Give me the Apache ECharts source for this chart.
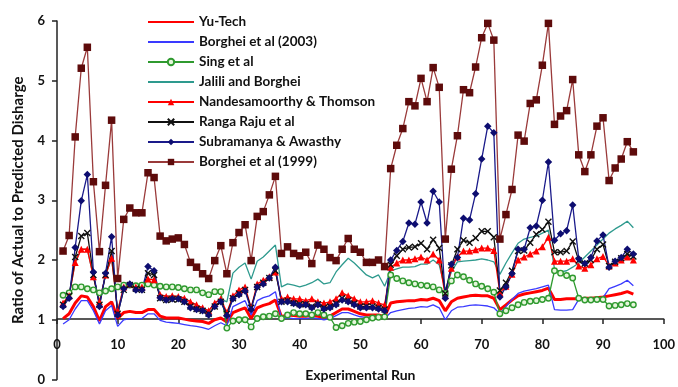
<!DOCTYPE html>
<html><head><meta charset="utf-8">
<script src="https://cdn.jsdelivr.net/npm/echarts@6/dist/echarts.min.js"></script>
<style>html,body{margin:0;padding:0;background:#fff}#c{width:678px;height:387px}</style>
</head><body><div id="c"></div>
<script>
const runs = [1,2,3,4,5,6,7,8,9,10,11,12,13,14,15,16,17,18,19,20,21,22,23,24,25,26,27,28,29,30,31,32,33,34,35,36,37,38,39,40,41,42,43,44,45,46,47,48,49,50,51,52,53,54,55,56,57,58,59,60,61,62,63,64,65,66,67,68,69,70,71,72,73,74,75,76,77,78,79,80,81,82,83,84,85,86,87,88,89,90,91,92,93,94,95];
const yuTech = [1.02,1.10,1.28,1.40,1.38,1.22,0.98,1.22,1.30,1.02, 1.12,1.14,1.12,1.12,1.17,1.17,1.06,1.03,1.03,1.03, 1.01,0.99,0.98,0.97,0.94,1.00,1.03,0.96,1.12,1.16, 1.20,1.02,1.20,1.24,1.27,1.33,1.05,1.08,1.07,1.06, 1.06,1.07,1.06,1.04,1.06,1.12,1.18,1.18,1.14,1.10, 1.08,1.08,1.08,1.05,1.28,1.30,1.31,1.32,1.32,1.34, 1.33,1.36,1.32,1.15,1.30,1.36,1.38,1.40,1.41,1.40, 1.40,1.36,1.17,1.25,1.33,1.40,1.43,1.45,1.47,1.49, 1.53,1.34,1.34,1.35,1.35,1.35,1.36,1.36,1.37,1.38, 1.40,1.42,1.44,1.47,1.43];
const borghei2003 = [0.93,1.00,1.18,1.32,1.32,1.15,0.93,1.15,1.24,0.89, 1.00,1.02,1.02,1.02,1.10,1.10,0.99,0.96,0.95,0.94, 0.92,0.90,0.89,0.87,0.84,0.90,0.95,0.90,1.22,1.27, 1.32,1.08,1.32,1.37,1.40,1.47,1.02,1.03,1.02,1.02, 1.02,1.03,1.02,1.00,1.02,1.07,1.12,1.12,1.08,1.05, 1.04,1.04,1.04,1.02,1.12,1.15,1.17,1.19,1.20,1.22, 1.21,1.25,1.20,1.00,1.15,1.21,1.22,1.24,1.25,1.24, 1.23,1.20,1.10,1.22,1.34,1.44,1.48,1.50,1.52,1.55, 1.58,1.17,1.16,1.16,1.17,1.34,1.35,1.35,1.36,1.37, 1.52,1.56,1.60,1.66,1.57];
const singEtAl = [1.41,1.45,1.55,1.55,1.52,1.50,1.45,1.48,1.52,1.55, 1.58,1.58,1.57,1.58,1.60,1.58,1.56,1.55,1.55,1.54, 1.52,1.50,1.50,1.45,1.42,1.47,1.47,0.86,0.98,1.00, 1.00,0.88,1.02,1.05,1.06,1.10,1.02,1.08,1.12,1.10, 1.10,1.08,1.12,1.08,1.04,0.87,0.90,0.94,0.96,0.97, 1.00,1.03,1.04,1.05,1.75,1.69,1.65,1.62,1.60,1.58, 1.57,1.55,1.50,1.44,1.65,1.75,1.72,1.66,1.60,1.56, 1.52,1.46,1.10,1.15,1.20,1.25,1.29,1.31,1.32,1.34, 1.36,1.82,1.78,1.74,1.70,1.36,1.33,1.33,1.34,1.34, 1.23,1.24,1.25,1.27,1.25];
const jaliliBorghei = [1.28,1.40,1.96,2.18,2.18,1.72,1.30,1.75,2.03,1.15, 1.55,1.60,1.55,1.55,1.68,1.67,1.42,1.39,1.40,1.39, 1.36,1.30,1.25,1.20,1.15,1.28,1.35,1.30,1.78,1.88, 1.95,1.68,1.98,2.05,2.15,2.25,1.55,1.60,1.58,1.55, 1.58,1.62,1.68,1.60,1.62,1.80,1.92,2.03,1.95,1.85, 1.75,1.70,1.75,1.56,1.82,1.85,1.88,1.88,1.89,1.93, 1.93,2.00,1.92,1.50,1.80,1.97,1.98,1.99,2.00,2.02, 2.00,1.97,1.76,1.95,2.12,2.28,2.35,2.38,2.40,2.45, 2.50,1.85,1.80,1.82,1.88,1.95,2.05,2.15,2.25,2.35, 2.45,2.52,2.58,2.65,2.54];
const nandesamoorthy = [1.28,1.40,1.96,2.18,2.18,1.72,1.30,1.75,2.03,1.15, 1.55,1.60,1.55,1.55,1.68,1.67,1.42,1.39,1.40,1.39, 1.36,1.30,1.25,1.20,1.15,1.28,1.35,1.12,1.40,1.50, 1.55,1.20,1.60,1.66,1.72,1.80,1.35,1.38,1.35,1.35, 1.32,1.35,1.30,1.28,1.30,1.35,1.45,1.40,1.35,1.30, 1.30,1.32,1.28,1.25,1.88,1.95,2.00,2.00,2.02,2.05, 2.00,2.10,2.00,1.40,1.86,2.05,2.15,2.15,2.17,2.20, 2.20,2.16,1.45,1.56,1.76,2.00,2.05,2.10,2.15,2.22, 2.38,1.98,1.98,1.98,2.02,1.90,1.86,1.92,2.02,2.06, 1.90,1.95,2.00,2.05,2.00];
const rangaRaju = [1.25,1.40,2.05,2.40,2.45,1.75,1.25,1.75,2.15,1.10, 1.50,1.58,1.52,1.50,1.78,1.75,1.36,1.33,1.34,1.34, 1.30,1.22,1.18,1.15,1.10,1.22,1.30,1.10,1.36,1.44, 1.50,1.20,1.55,1.62,1.70,1.82,1.30,1.32,1.28,1.26, 1.26,1.22,1.26,1.20,1.22,1.27,1.36,1.32,1.27,1.22, 1.22,1.22,1.20,1.17,1.92,2.07,2.18,2.21,2.22,2.28, 2.18,2.34,2.20,1.44,1.91,2.18,2.33,2.29,2.37,2.48, 2.48,2.38,1.49,1.62,1.82,2.15,2.16,2.29,2.43,2.51, 2.64,2.13,2.13,2.15,2.31,1.99,1.94,2.00,2.18,2.26, 1.90,1.97,2.03,2.10,2.06];
const subramanya = [1.22,1.36,2.21,2.99,3.43,1.80,1.22,1.78,2.39,1.08, 1.52,1.60,1.50,1.50,1.89,1.82,1.37,1.33,1.35,1.35, 1.30,1.20,1.17,1.15,1.08,1.22,1.30,1.07,1.35,1.42, 1.48,1.17,1.55,1.60,1.70,1.88,1.30,1.30,1.27,1.24, 1.25,1.20,1.25,1.18,1.20,1.25,1.33,1.30,1.25,1.20, 1.20,1.20,1.18,1.15,2.00,2.16,2.31,2.62,2.60,2.97, 2.62,3.15,2.97,1.36,1.93,2.04,2.70,2.67,3.11,3.69, 4.24,4.13,1.38,1.55,1.77,2.18,2.18,2.54,2.57,3.00, 3.64,2.33,2.44,2.49,2.92,2.02,1.94,2.04,2.32,2.42, 1.88,1.98,2.04,2.18,2.10];
const borghei1999 = [2.15,2.41,4.06,5.21,5.56,3.31,2.14,3.25,4.34,1.69, 2.68,2.87,2.79,2.79,3.46,3.38,2.40,2.32,2.35,2.37, 2.26,1.96,1.88,1.77,1.69,1.99,2.24,1.77,2.29,2.46, 2.59,1.99,2.73,2.81,3.09,3.40,2.11,2.22,2.11,2.07, 2.13,1.94,2.25,2.18,2.04,1.99,2.18,2.36,2.18,2.13, 1.96,1.96,2.00,1.89,3.53,3.92,4.20,4.65,4.58,5.04, 4.65,5.22,4.89,2.35,3.52,4.08,4.85,4.80,5.23,5.72, 5.96,5.68,2.35,2.76,3.18,4.09,3.99,4.62,4.68,5.26, 5.96,4.27,4.41,4.50,5.02,3.76,3.48,3.76,4.24,4.38, 3.33,3.54,3.69,3.98,3.81];
const seriesNames = ['Yu-Tech','Borghei et al (2003)','Sing et al','Jalili and Borghei','Nandesamoorthy & Thomson','Ranga Raju et al','Subramanya & Awasthy','Borghei et al (1999)'];
const xTicks = {min:0, max:100, interval:10};
const yTicks = {min:0, max:6, interval:1};

const pair = arr => runs.map((r,i)=>[r, arr[i]]);
const FONT = 'Lato';
const noMarker = new Set([0,1,3]);
const chart = echarts.init(document.getElementById('c'), null, {renderer:'canvas'});
const base = {type:'line', animation:false};
chart.setOption({
  animation:false,
  grid:{left:57, right:11, top:21, bottom:3, containLabel:false},
  legend:{
    orient:'vertical', left:142, top:10, itemWidth:46, itemHeight:8, itemGap:6,
    textStyle:{fontFamily:FONT, fontWeight:'bold', fontSize:13.5, color:'#111'},
    data:seriesNames.map((n,i)=> noMarker.has(i) ? {name:n, itemStyle:{opacity:0}} : {name:n})
  },
  xAxis:{
    type:'value', min:xTicks.min, max:xTicks.max, interval:xTicks.interval,
    offset:-60.5,
    axisLine:{show:true, onZero:false, lineStyle:{color:'#222', width:1.5}},
    axisTick:{show:true, inside:false, length:5, lineStyle:{color:'#222', width:1.5}},
    axisLabel:{margin:19, fontFamily:FONT, fontWeight:'bold', fontSize:13, color:'#111'},
    splitLine:{show:false},
    name:'Experimental Run', nameLocation:'middle', nameGap:49,
    nameTextStyle:{fontFamily:FONT, fontWeight:'bold', fontSize:14, color:'#111'}
  },
  yAxis:{
    type:'value', min:yTicks.min, max:yTicks.max, interval:yTicks.interval,
    axisLine:{show:true, lineStyle:{color:'#222', width:1.5}},
    axisTick:{show:true, length:5, lineStyle:{color:'#222', width:1.5}},
    axisLabel:{margin:12, fontFamily:FONT, fontWeight:'bold', fontSize:13, color:'#111'},
    splitLine:{show:false},
    name:'Ratio of Actual to Predicted Disharge', nameLocation:'middle', nameGap:31,
    nameTextStyle:{fontFamily:FONT, fontWeight:'bold', fontSize:15, color:'#111'}
  },
  series:[
    Object.assign({}, base, {name:seriesNames[0], data:pair(yuTech), symbol:'none', lineStyle:{color:'#ff0000', width:3}, itemStyle:{color:'#ff0000'}}),
    Object.assign({}, base, {name:seriesNames[1], data:pair(borghei2003), symbol:'none', lineStyle:{color:'#3a3aff', width:1.3}, itemStyle:{color:'#3a3aff'}}),
    Object.assign({}, base, {name:seriesNames[2], data:pair(singEtAl), symbol:'circle', symbolSize:5.5, lineStyle:{color:'#2f9a2f', width:1.3}, itemStyle:{color:'#e6f6dc', borderColor:'#2f9a2f', borderWidth:1.4}}),
    Object.assign({}, base, {name:seriesNames[3], data:pair(jaliliBorghei), symbol:'none', lineStyle:{color:'#2e9a8e', width:1.3}, itemStyle:{color:'#2e9a8e'}}),
    Object.assign({}, base, {name:seriesNames[4], data:pair(nandesamoorthy), symbol:'triangle', symbolSize:7, lineStyle:{color:'#ff0000', width:1.3}, itemStyle:{color:'#ff0000'}}),
    Object.assign({}, base, {name:seriesNames[5], data:pair(rangaRaju), symbol:'path://M0 0L10 10M10 0L0 10', symbolSize:6, lineStyle:{color:'#111', width:1.3}, itemStyle:{color:'#111', borderColor:'#111', borderWidth:1.4}}),
    Object.assign({}, base, {name:seriesNames[6], data:pair(subramanya), symbol:'diamond', symbolSize:7.5, lineStyle:{color:'#1a1a8a', width:1.3}, itemStyle:{color:'#0d0d70'}}),
    Object.assign({}, base, {name:seriesNames[7], data:pair(borghei1999), symbol:'rect', symbolSize:7.5, lineStyle:{color:'#9a3a3a', width:1.3}, itemStyle:{color:'#5e0b0b'}})
  ]
});
</script></body></html>
